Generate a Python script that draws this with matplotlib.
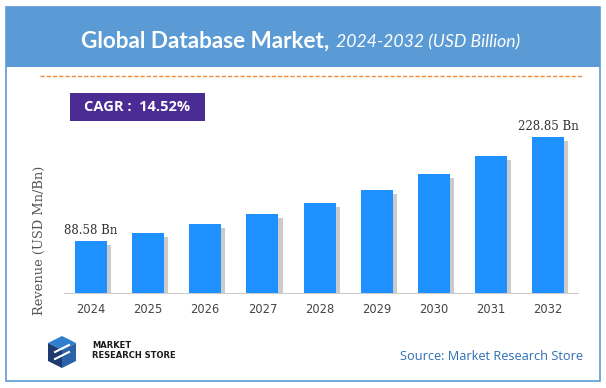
import matplotlib.pyplot as plt
from matplotlib.patches import Rectangle, Polygon
import matplotlib.patheffects as pe

years = ['2024', '2025', '2026', '2027', '2028', '2029', '2030', '2031', '2032']
revenue = [88.58, 99.4, 111.5, 125.0, 139.9, 157.4, 179.0, 203.3, 228.85]
bar_labels = {0: '88.58 Bn', 8: '228.85 Bn'}
cagr_text = 'CAGR :  14.52%'

W, H = 606, 388
fig = plt.figure(figsize=(W / 100, H / 100), dpi=100)

# background layer in pixel coordinates for the decorations
bg = fig.add_axes([0, 0, 1, 1])
bg.set_xlim(0, W)
bg.set_ylim(H, 0)
bg.axis('off')

blue_hdr = '#5B9BD5'
bg.add_patch(Rectangle((6, 7), 594, 374, fill=False, ec=blue_hdr, lw=1.2))
bg.add_patch(Rectangle((6, 7), 594, 60, fc=blue_hdr, ec='none'))
bg.text(329, 41, 'Global Database Market,', ha='right', va='center',
        color='white', fontsize=16.2, fontweight='bold', family='Lato')
bg.text(336, 42, '2024-2032 (USD Billion)', ha='left', va='center',
        color='white', fontsize=12.7, style='italic', family='Lato')
bg.plot([40, 583], [75.5, 75.5], color='#F28C3A', lw=1, ls=(0, (3, 1.5)))

# CAGR box
bg.add_patch(Rectangle((70, 93), 135, 28, fc='#4A2C94', ec='none'))
bg.text(137.5, 107, cagr_text, ha='center', va='center', color='white',
        fontsize=10.5, fontweight='bold', family='Open Sans')

# logo
bg.add_patch(Polygon([[48, 343], [62, 336], [76, 343], [62, 350]], fc='#2F7FD0'))
bg.add_patch(Polygon([[48, 343], [62, 350], [62, 368], [48, 361]], fc='#1F3A6E'))
bg.add_patch(Polygon([[62, 350], [76, 343], [76, 361], [62, 368]], fc='#2A63A8'))
bg.plot([55, 69], [352, 345], color='white', lw=1.5)
bg.plot([55, 69], [359, 352], color='white', lw=1.5)
bg.text(92, 345, 'MARKET', ha='left', va='center', fontsize=6.0,
        fontweight='bold', color='#1a1a1a', family='Liberation Sans Narrow')
bg.text(92, 355, 'RESEARCH STORE', ha='left', va='center', fontsize=6.0,
        fontweight='bold', color='#1a1a1a', family='Liberation Sans Narrow')
bg.text(583, 357, 'Source: Market Research Store', ha='right', va='center',
        fontsize=9.2, color='#2E6DB4', family='Open Sans')

# chart
ax = fig.add_axes([64 / W, 1 - 293 / H, (578 - 64) / W, (293 - 100) / H])
ax.patch.set_alpha(0)
x = range(len(years))
bars = ax.bar(x, revenue, width=0.56, color='#1E90FF', zorder=3)
for b in bars:
    b.set_path_effects([pe.SimplePatchShadow(offset=(3, -3), shadow_rgbFace='#999999', alpha=0.5),
                        pe.Normal()])
ax.set_xlim(-0.47, 8.52)
ax.set_ylim(18.4, 278.8)
for i, txt in bar_labels.items():
    ax.text(i, revenue[i] + 5, txt, ha='center', va='bottom', fontsize=8.5,
            color='#333333', family='DejaVu Serif')
ax.set_xticks(list(x))
ax.set_xticklabels(years, fontsize=8.3, color='#444444')
ax.tick_params(axis='x', length=0, pad=7)
ax.set_yticks([])
for s in ['top', 'right', 'left']:
    ax.spines[s].set_visible(False)
ax.spines['bottom'].set_color('#cccccc')
ax.set_ylabel('Revenue (USD Mn/Bn)', fontsize=9.4, color='#555555',
              family='DejaVu Serif')
ax.yaxis.set_label_coords(-0.035, 0.275)

fig.savefig('out.png', dpi=100)
